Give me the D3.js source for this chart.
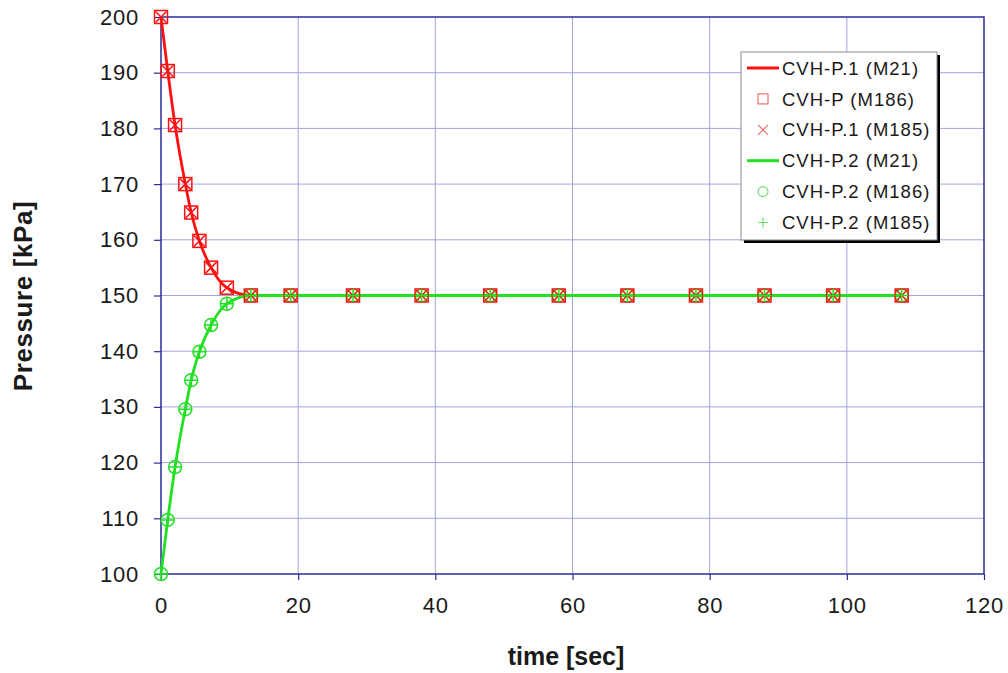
<!DOCTYPE html>
<html>
<head>
<meta charset="utf-8">
<script src="https://cdn.jsdelivr.net/npm/d3@7"></script>
<style>
    body { margin: 0; background: #fff; }
    text { font-family: Arial, "Liberation Sans", sans-serif; fill: #1a1a1a; }
</style>
</head>
<body>
<div id="chart"></div>
<script>
// time [sec]
var timeSec = [0, 0.98, 2.05, 3.55, 4.4, 5.6, 7.3, 9.6, 13.1, 18.9, 28, 38, 48, 58, 68, 78, 88, 98, 108];
// CVH-P.1 pressure [kPa]
var pressure1 = [200, 190.3, 180.6, 170.0, 164.9, 159.8, 155.0, 151.4, 150.0, 150, 150, 150, 150, 150, 150, 150, 150, 150, 150];
// CVH-P.2 pressure [kPa]
var pressure2 = [100, 109.7, 119.2, 129.6, 134.8, 139.9, 144.7, 148.5, 150.0, 150, 150, 150, 150, 150, 150, 150, 150, 150, 150];

var xTicks = [0, 20, 40, 60, 80, 100, 120];
var yTicks = [100, 110, 120, 130, 140, 150, 160, 170, 180, 190, 200];
var legendLabels = ["CVH-P.1 (M21)", "CVH-P (M186)", "CVH-P.1 (M185)", "CVH-P.2 (M21)", "CVH-P.2 (M186)", "CVH-P.2 (M185)"];

var svgWidth = 1008;
var svgHeight = 673;
var red = "#ff1010";
var green = "#22e022";
var frameColor = "#2b2b9c";

var svg = d3.select("#chart")
    .append("svg")
        .attr("width", svgWidth)
        .attr("height", svgHeight);

var x = d3.scaleLinear().domain([0, 120]).range([161, 984]);
var y = d3.scaleLinear().domain([100, 200]).range([574, 17]);

// grid
svg.append("g")
    .selectAll("line")
    .data(yTicks.slice(1, -1))
    .enter().append("line")
    .attr("x1", x(0)).attr("x2", x(120))
    .attr("y1", d => y(d)).attr("y2", d => y(d))
    .attr("stroke", "#a4a4dc").attr("stroke-width", 1);
svg.append("g")
    .selectAll("line")
    .data(xTicks.slice(1, -1))
    .enter().append("line")
    .attr("x1", d => x(d)).attr("x2", d => x(d))
    .attr("y1", y(100)).attr("y2", y(200))
    .attr("stroke", "#a4a4dc").attr("stroke-width", 1);

// axes
var xAxis = svg.append("g")
    .attr("transform", "translate(0," + y(100) + ")")
    .call(d3.axisBottom(x).tickValues(xTicks).tickSize(6).tickPadding(13));
var yAxis = svg.append("g")
    .attr("transform", "translate(" + x(0) + ",0)")
    .call(d3.axisLeft(y).tickValues(yTicks).tickSize(7).tickPadding(15));
[xAxis, yAxis].forEach(function(a) {
    a.select(".domain").remove();
    a.selectAll("line").attr("stroke", frameColor).attr("stroke-width", 1.2);
    a.selectAll("text")
        .style("font-size", "22px")
        .style("letter-spacing", "0.8px")
        .attr("fill", "#1a1a1a");
});
xAxis.selectAll("text").attr("dy", "0.9em");

svg.append("rect")
    .attr("x", x(0)).attr("y", y(200))
    .attr("width", x(120) - x(0)).attr("height", y(100) - y(200))
    .attr("fill", "none")
    .attr("stroke", frameColor)
    .attr("stroke-width", 1.5);

// axis titles
svg.append("text")
    .attr("x", 566).attr("y", 665)
    .attr("text-anchor", "middle")
    .style("font-size", "25px").style("font-weight", "bold")
    .text("time [sec]");
svg.append("text")
    .attr("transform", "translate(32,296) rotate(-90)")
    .attr("text-anchor", "middle")
    .style("font-size", "26px").style("font-weight", "bold")
    .style("letter-spacing", "0.6px")
    .text("Pressure [kPa]");

// series
var points1 = timeSec.map((t, i) => [t, pressure1[i]]);
var points2 = timeSec.map((t, i) => [t, pressure2[i]]);

var line = d3.line()
    .x(d => x(d[0]))
    .y(d => y(d[1]))
    .curve(d3.curveMonotoneX);

function drawLine(points, color) {
    svg.append("path")
        .datum(points)
        .attr("d", line)
        .attr("fill", "none")
        .attr("stroke", color)
        .attr("stroke-width", 2.8);
}

function square(g, cx, cy, s, color, w) {
    g.append("rect")
        .attr("x", cx - s / 2).attr("y", cy - s / 2)
        .attr("width", s).attr("height", s)
        .attr("fill", "none").attr("stroke", color).attr("stroke-width", w);
}
function cross(g, cx, cy, s, color, w) {
    var h = s / 2;
    g.append("path")
        .attr("d", "M" + (cx - h) + "," + (cy - h) + "L" + (cx + h) + "," + (cy + h) +
                   "M" + (cx - h) + "," + (cy + h) + "L" + (cx + h) + "," + (cy - h))
        .attr("fill", "none").attr("stroke", color).attr("stroke-width", w);
}
function circle(g, cx, cy, s, color, w) {
    g.append("circle")
        .attr("cx", cx).attr("cy", cy).attr("r", s / 2)
        .attr("fill", "none").attr("stroke", color).attr("stroke-width", w);
}
function plus(g, cx, cy, s, color, w) {
    var h = s / 2;
    g.append("path")
        .attr("d", "M" + (cx - h) + "," + cy + "L" + (cx + h) + "," + cy +
                   "M" + cx + "," + (cy - h) + "L" + cx + "," + (cy + h))
        .attr("fill", "none").attr("stroke", color).attr("stroke-width", w);
}

function drawMarkers(points, fn, size, color) {
    var g = svg.append("g");
    points.forEach(function(d) {
        fn(g, x(d[0]), y(d[1]), size, color, 1.5);
    });
}

drawLine(points1, red);
drawLine(points2, green);
drawMarkers(points2, circle, 13, green);
drawMarkers(points1, square, 13, red);
drawMarkers(points1, cross, 11, red);
drawMarkers(points2, plus, 13, green);

// legend
var legend = svg.append("g");
legend.append("rect")
    .attr("x", 744).attr("y", 55)
    .attr("width", 196).attr("height", 188)
    .attr("fill", "#000");
legend.append("rect")
    .attr("x", 741).attr("y", 52)
    .attr("width", 196).attr("height", 188)
    .attr("fill", "#fff")
    .attr("stroke", "#8a8a8a").attr("stroke-width", 1);

var legendFns = [null, square, cross, null, circle, plus];
var legendColors = [red, "#f07070", "#f07070", green, "#70e070", "#70e070"];
legendLabels.forEach(function(label, i) {
    var ly = 68 + i * 30.9;
    if (legendFns[i] == null) {
        legend.append("line")
            .attr("x1", 747).attr("x2", 779)
            .attr("y1", ly).attr("y2", ly)
            .attr("stroke", i < 3 ? red : green)
            .attr("stroke-width", 3);
    } else {
        legendFns[i](legend, 763, ly, 10, legendColors[i], 1.2);
    }
    legend.append("text")
        .attr("x", 782).attr("y", ly)
        .attr("dy", "0.36em")
        .style("font-size", "18.5px")
        .style("letter-spacing", "1px")
        .text(label);
});
</script>
</body>
</html>
